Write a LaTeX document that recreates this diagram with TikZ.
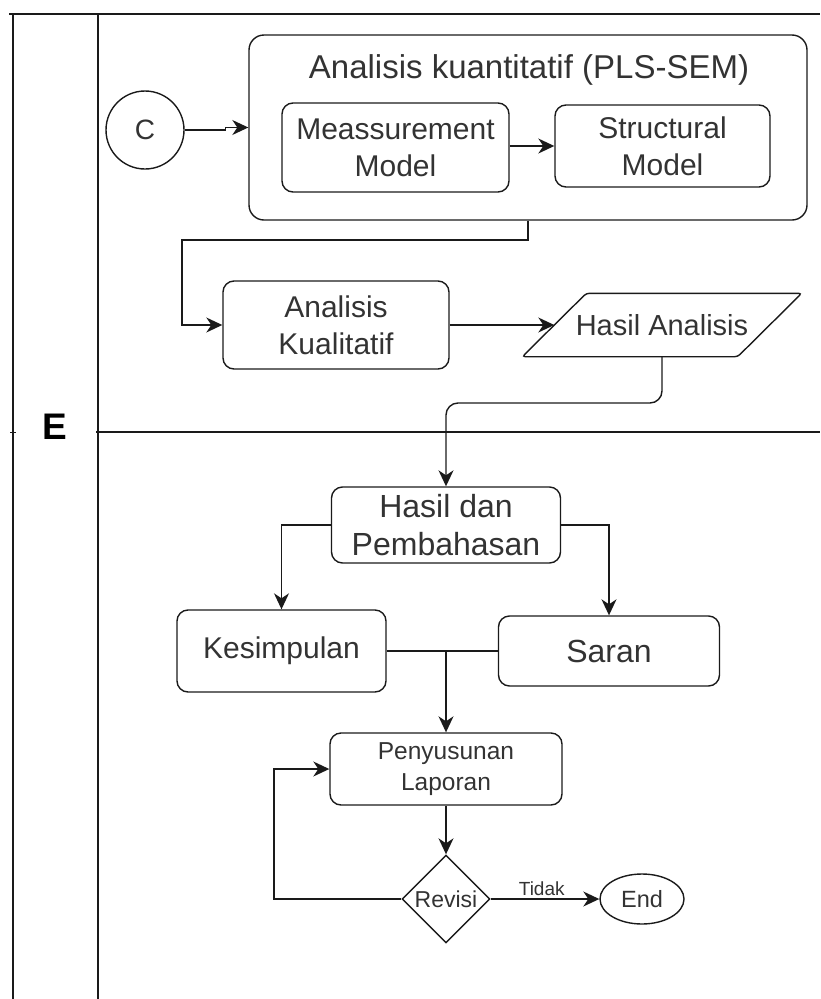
\documentclass[tikz,border=0pt]{standalone}
\usepackage{fontspec}
\setmainfont{Liberation Sans}
\usetikzlibrary{arrows.meta,shapes.geometric,calc}
\definecolor{ink}{HTML}{333333}
\definecolor{edge}{HTML}{1A1A1A}
\begin{document}
\begin{tikzpicture}[x=1pt,y=-1pt,
  lane/.style={draw=edge, line width=1.6pt},
  proc/.style={draw=edge, line width=1.4pt, rounded corners=11pt, align=center, text=ink, inner sep=0pt},
  link/.style={draw=edge, line width=1.4pt},
  flow/.style={link, -{Stealth[length=16pt,width=15pt,inset=5pt]}},
  fbig/.style={font=\fontsize{30}{37}\selectfont},
  fmid/.style={font=\fontsize{24.5}{31}\selectfont},
]
\useasboundingbox (0,0) rectangle (820,999);

% swimlane frame
\draw[lane] (9,14) -- (820,14);
\draw[lane] (13,14) -- (13,999);
\draw[lane] (98,14) -- (98,999);
\draw[lane] (96,432) -- (820,432);
\draw[link, line width=1pt] (10,432) -- (16,432);
\node[text=black, font=\bfseries\fontsize{37}{40}\selectfont] (lanelabel) at (55,427) {E};

% quantitative analysis group
\node[proc, rounded corners=15pt, minimum width=558pt, minimum height=185pt] (outer) at (528,127.5) {};
\node[text=ink, font=\fontsize{33}{38}\selectfont] (title) at (529,70) {Analisis kuantitatif (PLS-SEM)};
\node[proc, fbig, minimum width=227pt, minimum height=89pt] (meas) at (395.5,147.5) {Meassurement\\Model};
\node[proc, fbig, minimum width=215pt, minimum height=82pt] (struct) at (662.5,146) {Structural\\Model};

% start connector
\node[draw=edge, line width=1.4pt, circle, minimum size=78pt, inner sep=0pt, text=ink, font=\fontsize{28}{30}\selectfont] (c) at (145,130) {C};

% qualitative analysis and result
\node[proc, fbig, minimum width=226pt, minimum height=88pt] (ak) at (336,325) {Analisis\\Kualitatif};
\node[text=ink, font=\fontsize{29}{35}\selectfont, minimum width=215pt, minimum height=63pt, inner sep=0pt] (ha) at (662,325) {Hasil Analisis};
\draw[link, rounded corners=3pt]
  ($(ha.south west)+(-32,0)$) -- ($(ha.south east)+(-32,0)$) --
  ($(ha.north east)+(32,0)$) -- ($(ha.north west)+(32,0)$) -- cycle;

% results and conclusions
\node[proc, font=\fontsize{32}{38}\selectfont, minimum width=229pt, minimum height=76pt] (hdp) at (446,525) {Hasil dan\\Pembahasan};
\node[proc, fbig, minimum width=209pt, minimum height=82pt] (kes) at (281.5,651) {Kesimpulan};
\node[proc, font=\fontsize{32}{36}\selectfont, minimum width=221pt, minimum height=70pt] (saran) at (609,651) {Saran};
\node[proc, fmid, minimum width=232pt, minimum height=72pt] (pen) at (446,769) {Penyusunan\\Laporan};
\node[draw=edge, line width=1.4pt, diamond, minimum width=88pt, minimum height=88pt, inner sep=0pt, text=ink, font=\fontsize{23}{26}\selectfont] (rev) at (446,899) {Revisi};
\node[draw=edge, line width=1.4pt, ellipse, minimum width=84pt, minimum height=50pt, inner sep=0pt, text=ink, font=\fontsize{23.5}{26}\selectfont] (end) at (642,899) {End};

% connectors
\draw[flow] (c.east) -- ++(41,0) |- (outer.west);
\draw[flow] (meas.east |- struct.west) -- (struct.west);
\coordinate (k1) at (182,240);
\draw[flow] (outer.south) |- (k1) |- (ak.west);
\draw[flow] (ak.east) -- (ha.west);
\coordinate (k2) at (662,403);
\draw[flow, rounded corners=12pt] (ha.south) -- (k2) -| (hdp.north);
\draw[flow] (hdp.west) -| (kes.north);
\draw[flow] (hdp.east) -| (saran.north);
\draw[link] (kes.east) -- (saran.west);
\coordinate (j) at (pen.north |- kes.east);
\draw[flow] (j) -- (pen.north);
\draw[flow] (pen.south) -- (rev.north);
\draw[flow] (rev.east) -- node[above, pos=0.47, text=ink, font=\fontsize{19}{22}\selectfont, inner sep=3pt] (tidak) {Tidak} (end.west);
\coordinate (lp) at (274,769);
\draw[flow] (rev.west) -| (lp) -- (pen.west);
\end{tikzpicture}
\end{document}
